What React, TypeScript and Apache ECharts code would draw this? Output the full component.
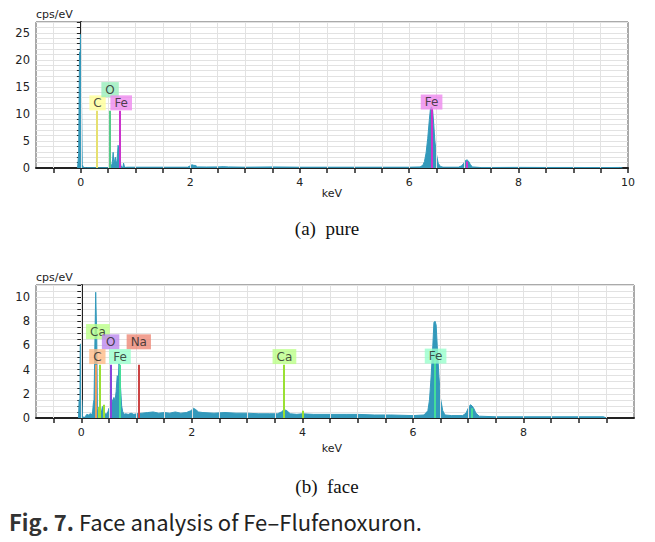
import React, { useEffect, useRef } from "react";
import * as echarts from "echarts";

// ---------- data ----------
const pureSpectrum: [number, number][] = [
  [-0.06, 0], [-0.05, 0], [-0.04, 2.7], [-0.03, 2.7], [-0.025, 21.4], [-0.012, 21.4], [-0.008, 24.7], [0.004, 24.7], [0.008, 16.0], [0.02, 16.0], [0.025, 0.6], [0.04, 0.3], [0.06, 0.05],
  [0.1, 0.05], [0.3, 0.05], [0.5, 0.05], [0.55, 0.2], [0.57, 0.8], [0.58, 1.5], [0.59, 2.9], [0.6, 1.2], [0.61, 0.6], [0.62, 1.6], [0.63, 2.0],
  [0.64, 1.2], [0.65, 0.8], [0.66, 1.4], [0.67, 2.6], [0.68, 4.2], [0.69, 3.8], [0.7, 4.0], [0.71, 2.8], [0.72, 1.4], [0.73, 0.5], [0.75, 0.2],
  [0.77, 0.1], [0.78, 0.9], [0.79, 0.9], [0.8, 0.1], [0.85, 0.15], [1.0, 0.15], [1.5, 0.15], [1.95, 0.15], [2.0, 0.4], [2.03, 0.6], [2.06, 0.5],
  [2.1, 0.45], [2.13, 0.2], [2.3, 0.18], [2.5, 0.2], [2.6, 0.25], [2.7, 0.2], [3.0, 0.15], [3.5, 0.2], [4.0, 0.15], [4.5, 0.15], [5.0, 0.15],
  [5.5, 0.15], [6.0, 0.15], [6.2, 0.2], [6.25, 0.5], [6.28, 1.2], [6.31, 2.8], [6.34, 5.5], [6.37, 9.0], [6.39, 11.0], [6.41, 11.3], [6.43, 10.6],
  [6.45, 8.0], [6.47, 5.0], [6.5, 2.5], [6.53, 0.9], [6.57, 0.3], [6.62, 0.15], [6.9, 0.15], [6.96, 0.4], [7.0, 0.9], [7.03, 1.4], [7.06, 1.5],
  [7.09, 1.2], [7.12, 0.6], [7.16, 0.2], [7.3, 0.1], [7.5, 0.1], [8.0, 0.12], [8.5, 0.1], [9.0, 0.1], [9.5, 0.08], [9.85, 0.1], [9.9, 0],
];

const faceSpectrum: [number, number][] = [
  [-0.05, 0], [-0.04, 1.5], [-0.025, 1.5], [-0.02, 6.1], [-0.006, 6.1], [-0.002, 1.5], [0.012, 1.5], [0.02, 0.1], [0.06, 0.05], [0.1, 0.3],
  [0.13, 0.25], [0.16, 0.35], [0.2, 0.3], [0.22, 1.3], [0.23, 1.5], [0.24, 4.5], [0.25, 4.5], [0.26, 10.4], [0.27, 10.4], [0.28, 6.5],
  [0.29, 0.8], [0.31, 0.5], [0.33, 0.7], [0.36, 0.4], [0.38, 0.9], [0.4, 1.0], [0.42, 0.4], [0.45, 0.3], [0.48, 0.5], [0.5, 0.8], [0.52, 0.6],
  [0.55, 1.2], [0.57, 1.5], [0.59, 1.7], [0.61, 1.4], [0.63, 2.2], [0.65, 3.5], [0.67, 3.2], [0.68, 4.5], [0.7, 4.2], [0.71, 2.5], [0.73, 1.0],
  [0.75, 0.5], [0.78, 0.3], [0.8, 0.35], [0.85, 0.3], [0.9, 0.4], [0.95, 0.3], [1.0, 0.35], [1.1, 0.4], [1.2, 0.45], [1.3, 0.5], [1.4, 0.4],
  [1.5, 0.45], [1.6, 0.4], [1.7, 0.5], [1.8, 0.4], [1.9, 0.45], [1.98, 0.6], [2.03, 0.8], [2.07, 0.7], [2.12, 0.5], [2.2, 0.45], [2.4, 0.4],
  [2.6, 0.45], [2.8, 0.4], [3.0, 0.4], [3.2, 0.35], [3.4, 0.35], [3.55, 0.35], [3.62, 0.5], [3.67, 0.7], [3.72, 0.6], [3.78, 0.35], [3.9, 0.3],
  [4.0, 0.35], [4.2, 0.3], [4.5, 0.3], [4.8, 0.3], [5.0, 0.3], [5.3, 0.25], [5.6, 0.25], [6.0, 0.2], [6.2, 0.25], [6.27, 0.6], [6.3, 1.5],
  [6.33, 3.5], [6.36, 6.0], [6.38, 7.9], [6.4, 8.0], [6.42, 7.7], [6.44, 6.0], [6.47, 3.5], [6.5, 1.6], [6.54, 0.6], [6.58, 0.25], [6.7, 0.2],
  [6.9, 0.2], [6.96, 0.4], [7.0, 0.8], [7.04, 1.1], [7.07, 1.0], [7.1, 0.8], [7.14, 0.4], [7.2, 0.15], [7.5, 0.1], [8.0, 0.1], [8.5, 0.1],
  [9.0, 0.1], [9.45, 0.1], [9.5, 0],
];

// element marker lines: energy (keV) and line height (cps/eV)
const pureLineElements = ["C", "O", "Fe", "Fe", "Fe"];
const pureLineEnergy = [0.29, 0.53, 0.71, 6.41, 7.06];
const pureLineHeight = [10.6, 10.6, 10.6, 11.0, 1.2];
const pureLabelNames = ["C", "O", "Fe", "Fe"];
const pureLabelEnergy = [0.305, 0.534, 0.737, 6.41];
const pureLabelLevel = [12.05, 14.5, 12.05, 12.2];

const faceLineElements = ["C", "Ca", "Ca", "Ca", "O", "Fe", "Na", "Ca", "Ca", "Fe", "Fe"];
const faceLineEnergy = [0.26, 0.31, 0.33, 0.4, 0.53, 0.7, 1.035, 3.67, 4.01, 6.4, 7.06];
const faceLineHeight = [4.4, 0.9, 4.4, 1.1, 4.4, 4.4, 4.4, 4.4, 0.6, 5.0, 0.8];
const faceLabelNames = ["Ca", "O", "Na", "C", "Fe", "Ca", "Fe"];
const faceLabelEnergy = [0.3, 0.53, 1.04, 0.29, 0.7, 3.675, 6.41];
const faceLabelLevel = [7.15, 6.3, 6.3, 5.08, 5.08, 5.08, 5.12];

const xTickValues = [-0.5, 0, 0.5, 1, 1.5, 2, 2.5, 3, 3.5, 4, 4.5, 5, 5.5, 6, 6.5, 7, 7.5, 8, 8.5, 9, 9.5];
const pureXLabels = [0, 2, 4, 6, 8, 10];
const faceXLabels = [0, 2, 4, 6, 8];
const pureYLabels = [0, 5, 10, 15, 20, 25];
const faceYLabels = [0, 2, 4, 6, 8, 10];

// ---------- styles ----------
const pureLineColors: Record<string, string> = { C: "#e6e070", O: "#55cc88", Fe: "#cc33cc" };
const pureBoxColors: Record<string, string> = { C: "#ffff99", O: "#99eebb", Fe: "#ee88ee" };
const faceLineColors: Record<string, string> = { C: "#e89a60", Ca: "#99e033", O: "#8844dd", Fe: "#44dd99", Na: "#cc4444" };
const faceBoxColors: Record<string, string> = { C: "#ffbb88", Ca: "#bbff88", O: "#bb88ee", Fe: "#99ffcc", Na: "#ee8877" };
const SPEC = "#3399bb";
const FONT = "DejaVu Sans";

function buildAxes(gridIndex: number, yMax: number, yInterval: number, xLabels: number[], yLabels: number[]) {
  const xAxis = {
    type: "value",
    gridIndex,
    min: -0.82,
    max: 10,
    splitLine: { show: false },
    axisLine: { show: true, onZero: false, lineStyle: { color: "#222", width: 2 } },
    axisTick: { show: true, customValues: gridIndex === 0 ? [...xTickValues, 10] : xTickValues, length: 5, inside: false, lineStyle: { color: "#222", width: 1.5 } },
    axisLabel: { customValues: xLabels, margin: 9, fontSize: 11, color: "#222", fontFamily: FONT },
  };
  const yAxis = {
    type: "value",
    gridIndex,
    min: 0,
    max: yMax,
    interval: yInterval,
    splitLine: { show: true, lineStyle: { color: "#e2e2e2", width: 1 } },
    axisLine: { show: true, lineStyle: { color: "#222", width: 2 } },
    axisTick: { show: true, length: 4, lineStyle: { color: "#222", width: 1 } },
    axisLabel: { customValues: yLabels, margin: 6, fontSize: 11.5, color: "#222", fontFamily: FONT },
  };
  return { xAxis, yAxis };
}

function gridLineSeries(axisIndex: number) {
  return {
    type: "line",
    xAxisIndex: axisIndex,
    yAxisIndex: axisIndex,
    data: [],
    silent: true,
    z: 1,
    markLine: {
      silent: true,
      symbol: "none",
      animation: false,
      label: { show: false },
      lineStyle: { color: "#e2e2e2", width: 1, type: "solid" },
      data: xTickValues.map((v) => ({ xAxis: v })),
    },
  };
}

function spectrumSeries(axisIndex: number, data: [number, number][]) {
  return {
    type: "line",
    xAxisIndex: axisIndex,
    yAxisIndex: axisIndex,
    data,
    showSymbol: false,
    symbol: "none",
    silent: true,
    z: 3,
    lineStyle: { color: SPEC, width: 1 },
    areaStyle: { color: SPEC, opacity: 1 },
  };
}

function markerLineSeries(axisIndex: number, names: string[], energy: number[], height: number[], colors: Record<string, string>) {
  return {
    type: "line",
    xAxisIndex: axisIndex,
    yAxisIndex: axisIndex,
    data: [],
    silent: true,
    z: 4,
    markLine: {
      silent: true,
      symbol: "none",
      animation: false,
      label: { show: false },
      data: names.map((n, i) => [
        { coord: [energy[i], 0], lineStyle: { color: colors[n], width: 2, type: "solid" } },
        { coord: [energy[i], height[i]] },
      ]),
    },
  };
}

function labelSeries(axisIndex: number, names: string[], energy: number[], level: number[], colors: Record<string, string>) {
  return {
    type: "scatter",
    xAxisIndex: axisIndex,
    yAxisIndex: axisIndex,
    silent: true,
    z: 6,
    symbolSize: 1,
    itemStyle: { color: "transparent" },
    data: names.map((n, i) => ({
      value: [energy[i], level[i]],
      name: n,
      label: {
        show: true,
        position: "inside",
        formatter: n,
        fontSize: 12,
        fontFamily: FONT,
        color: "#222",
        backgroundColor: colors[n],
        padding: [1, 4, 0, 4],
        lineHeight: 14,
      },
    })),
  };
}

export default function App() {
  const ref = useRef<HTMLDivElement>(null);
  useEffect(() => {
    if (!ref.current) return;
    const chart = echarts.init(ref.current, null, { renderer: "svg" });
    const a0 = buildAxes(0, 27, 1, pureXLabels, pureYLabels);
    const a1 = buildAxes(1, 11, 0.5, faceXLabels, faceYLabels);
    chart.setOption({
      animation: false,
      backgroundColor: "#ffffff",
      grid: [
        { left: 36, top: 22, width: 592, height: 146, show: true, borderColor: "#555", borderWidth: 1, backgroundColor: "transparent" },
        { left: 36, top: 285, width: 598, height: 133, show: true, borderColor: "#555", borderWidth: 1, backgroundColor: "transparent" },
      ],
      xAxis: [a0.xAxis, a1.xAxis],
      yAxis: [a0.yAxis, a1.yAxis],
      series: [
        gridLineSeries(0),
        gridLineSeries(1),
        spectrumSeries(0, pureSpectrum),
        spectrumSeries(1, faceSpectrum),
        markerLineSeries(0, pureLineElements, pureLineEnergy, pureLineHeight, pureLineColors),
        markerLineSeries(1, faceLineElements, faceLineEnergy, faceLineHeight, faceLineColors),
        labelSeries(0, pureLabelNames, pureLabelEnergy, pureLabelLevel, pureBoxColors),
        labelSeries(1, faceLabelNames, faceLabelEnergy, faceLabelLevel, faceBoxColors),
      ],
      graphic: [
        { type: "text", left: 36, top: 9, style: { text: "cps/eV", fontSize: 11, fontFamily: FONT, fill: "#222" } },
        { type: "text", left: 36, top: 272, style: { text: "cps/eV", fontSize: 11, fontFamily: FONT, fill: "#222" } },
        { type: "text", x: 332, y: 193, style: { text: "keV", fontSize: 11, fontFamily: FONT, fill: "#222", align: "center", verticalAlign: "middle" } },
        { type: "text", x: 332, y: 448, style: { text: "keV", fontSize: 11, fontFamily: FONT, fill: "#222", align: "center", verticalAlign: "middle" } },
        { type: "text", x: 327, y: 228, style: { text: "(a)  pure", fontSize: 19, fontFamily: "Liberation Serif", fill: "#111", align: "center", verticalAlign: "middle" } },
        { type: "text", x: 327, y: 486, style: { text: "(b)  face", fontSize: 19, fontFamily: "Liberation Serif", fill: "#111", align: "center", verticalAlign: "middle" } },
        {
          type: "text",
          x: 9,
          y: 521,
          style: {
            text: "{b|Fig. 7.} Face analysis of Fe–Flufenoxuron.",
            fontSize: 22,
            fontFamily: "Noto Sans CJK KR",
            fill: "#222",
            verticalAlign: "middle",
            rich: { b: { fontSize: 22, fontFamily: "Noto Sans CJK KR", fontWeight: "bold", fill: "#333" } },
          },
        },
      ],
    });
    return () => chart.dispose();
  }, []);
  return <div ref={ref} style={{ position: "fixed", left: 0, top: 0, width: 655, height: 542 }} />;
}
